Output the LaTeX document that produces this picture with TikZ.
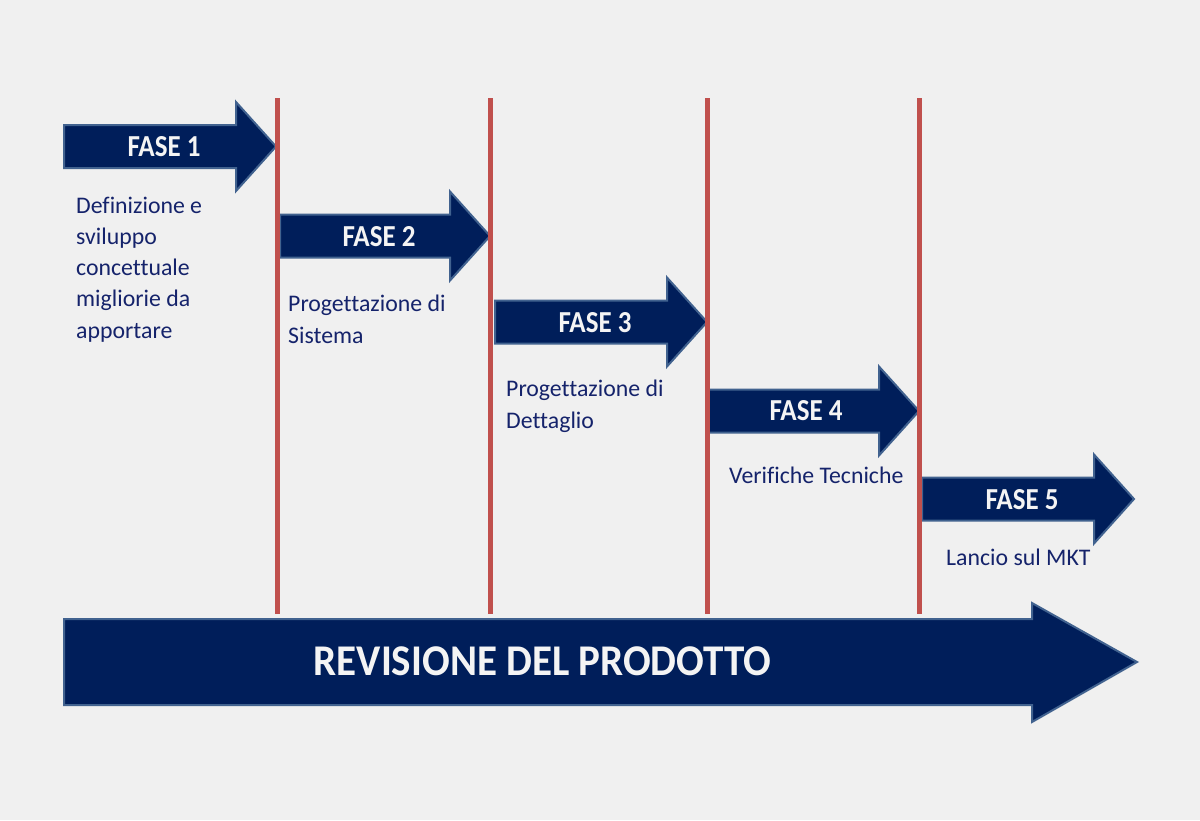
\documentclass[tikz,border=0pt]{standalone}
\usepackage{fontspec}
\usepackage{graphicx}
\setmainfont{Carlito}[Ligatures={NoCommon}]
\definecolor{bgcol}{HTML}{F0F0F0}
\definecolor{navyfill}{HTML}{001E5A}
\definecolor{navyedge}{HTML}{41628F}
\definecolor{redline}{HTML}{C0504D}
\definecolor{desccol}{HTML}{15236B}
\definecolor{labelcol}{HTML}{F4F4F4}
\newcommand{\tallA}[1]{\scalebox{1}[1.13]{#1}}
\newcommand{\tallB}[1]{\scalebox{1}[1.07]{#1}}
\tikzset{
  arrowbody/.style={fill=navyfill, draw=navyedge, line width=2pt, line join=miter},
  divider/.style={draw=redline, line width=5pt},
  phaselabel/.style={inner sep=0pt, text=labelcol, font=\fontsize{27}{32}\selectfont\bfseries},
  biglabel/.style={inner sep=0pt, text=labelcol, font=\fontsize{41}{48}\selectfont\bfseries},
  desctext/.style={inner sep=0pt, anchor=base west, align=left, text=desccol, font=\fontsize{23.8}{31.3}\selectfont}
}
\newcommand{\phasearrow}[3]{%
  \path[arrowbody] (#1,{#2-21.5}) -- ({#3-40},{#2-21.5}) -- ({#3-40},{#2-44.5}) -- (#3,#2)
    -- ({#3-40},{#2+44.5}) -- ({#3-40},{#2+21.5}) -- (#1,{#2+21.5}) -- cycle;}
\begin{document}
\begin{tikzpicture}[x=1pt,y=-1pt]
\fill[bgcol] (0,0) rectangle (1200,820);
\useasboundingbox (0,0) rectangle (1200,820);

% phase arrows
\phasearrow{64}{146.5}{276}
\phasearrow{280}{236}{490}
\phasearrow{495}{322}{707}
\phasearrow{708}{411}{919}
\phasearrow{922}{499}{1134}

% big arrow
\path[arrowbody] (64,619) -- (1032,619) -- (1032,603) -- (1137,662) -- (1032,722) -- (1032,705) -- (64,705) -- cycle;

% dividers
\coordinate (d1t) at (277,98);  \coordinate (d1b) at (277,614);
\coordinate (d2t) at (490,98);  \coordinate (d2b) at (490,614);
\coordinate (d3t) at (707,98);  \coordinate (d3b) at (707,614);
\coordinate (d4t) at (919,98);  \coordinate (d4b) at (919,614);
\draw[divider] (d1t) -- (d1b);
\draw[divider] (d2t) -- (d2b);
\draw[divider] (d3t) -- (d3b);
\draw[divider] (d4t) -- (d4b);

% labels
\node[phaselabel] (f1) at (164,147) {\tallA{FASE 1}};
\node[phaselabel] (f2) at (379,237) {\tallA{FASE 2}};
\node[phaselabel] (f3) at (595,323) {\tallA{FASE 3}};
\node[phaselabel] (f4) at (806,411) {\tallA{FASE 4}};
\node[phaselabel] (f5) at (1022,500) {\tallA{FASE 5}};
\node[biglabel] (rev) at (542.5,661) {\tallB{REVISIONE DEL PRODOTTO}};

% descriptions (base anchor = baseline of last line)
\node[desctext] (t1) at (76,338.2) {Definizione e\\sviluppo\\concettuale\\migliorie da\\apportare};
\node[desctext] (t2) at (288,343) {Progettazione di\\Sistema};
\node[desctext] (t3) at (506,428) {Progettazione di\\Dettaglio};
\node[desctext] (t4) at (729,483) {Verifiche Tecniche};
\node[desctext] (t5) at (946,565) {Lancio sul MKT};
\end{tikzpicture}
\end{document}
